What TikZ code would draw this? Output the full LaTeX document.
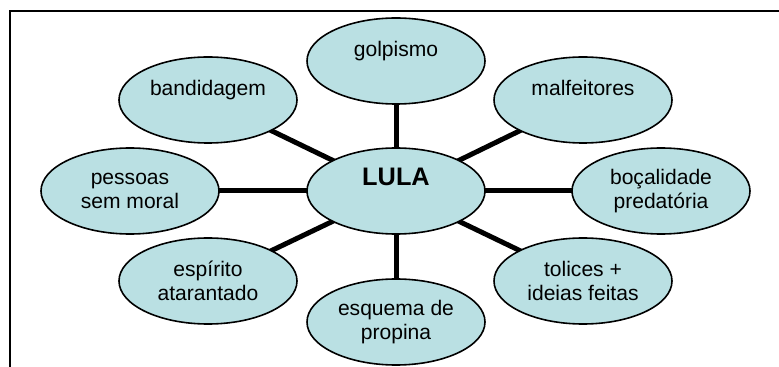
\documentclass[tikz,border=0pt]{standalone}
\usepackage{fontspec}
\setmainfont{Liberation Sans}
\usetikzlibrary{shapes.geometric,backgrounds}
\definecolor{bubblefill}{RGB}{186,224,227}
\begin{document}
\begin{tikzpicture}[x=0.75pt,y=-0.75pt,
  bubble/.style={ellipse, draw=black, line width=1.2pt, fill=bubblefill,
    minimum width=133.5pt, minimum height=64.5pt, inner sep=0pt,
    align=center, font=\fontsize{15.8}{18}\selectfont},
  hub/.style={bubble, font=\fontsize{19}{21}\selectfont\bfseries},
  spoke/.style={line width=3.75pt, black},
  frameline/.style={line width=1.8pt, black}]
\useasboundingbox (0,0) rectangle (779,367);
\draw[frameline] (779,11) -- (10,11) -- (10,367);
\node[hub]    (lula) at (396,191) {LULA\\\mbox{}};
\node[bubble] (golp) at (396,61)  {golpismo\\\mbox{}};
\node[bubble] (band) at (208,100) {bandidagem\\\mbox{}};
\node[bubble] (malf) at (583,100) {malfeitores\\\mbox{}};
\node[bubble] (pess) at (130,191) {pessoas\\sem moral};
\node[bubble] (boca) at (661,191) {boçalidade\\predatória};
\node[bubble] (espi) at (208,281) {espírito\\atarantado};
\node[bubble] (toli) at (583,281) {tolices +\\ideias feitas};
\node[bubble] (esqu) at (396,322) {esquema de\\propina};
\begin{pgfonlayer}{background}
\foreach \n in {golp,band,malf,pess,boca,espi,toli,esqu}
  \draw[spoke] (lula.center) -- (\n.center);
\end{pgfonlayer}
\end{tikzpicture}
\end{document}
